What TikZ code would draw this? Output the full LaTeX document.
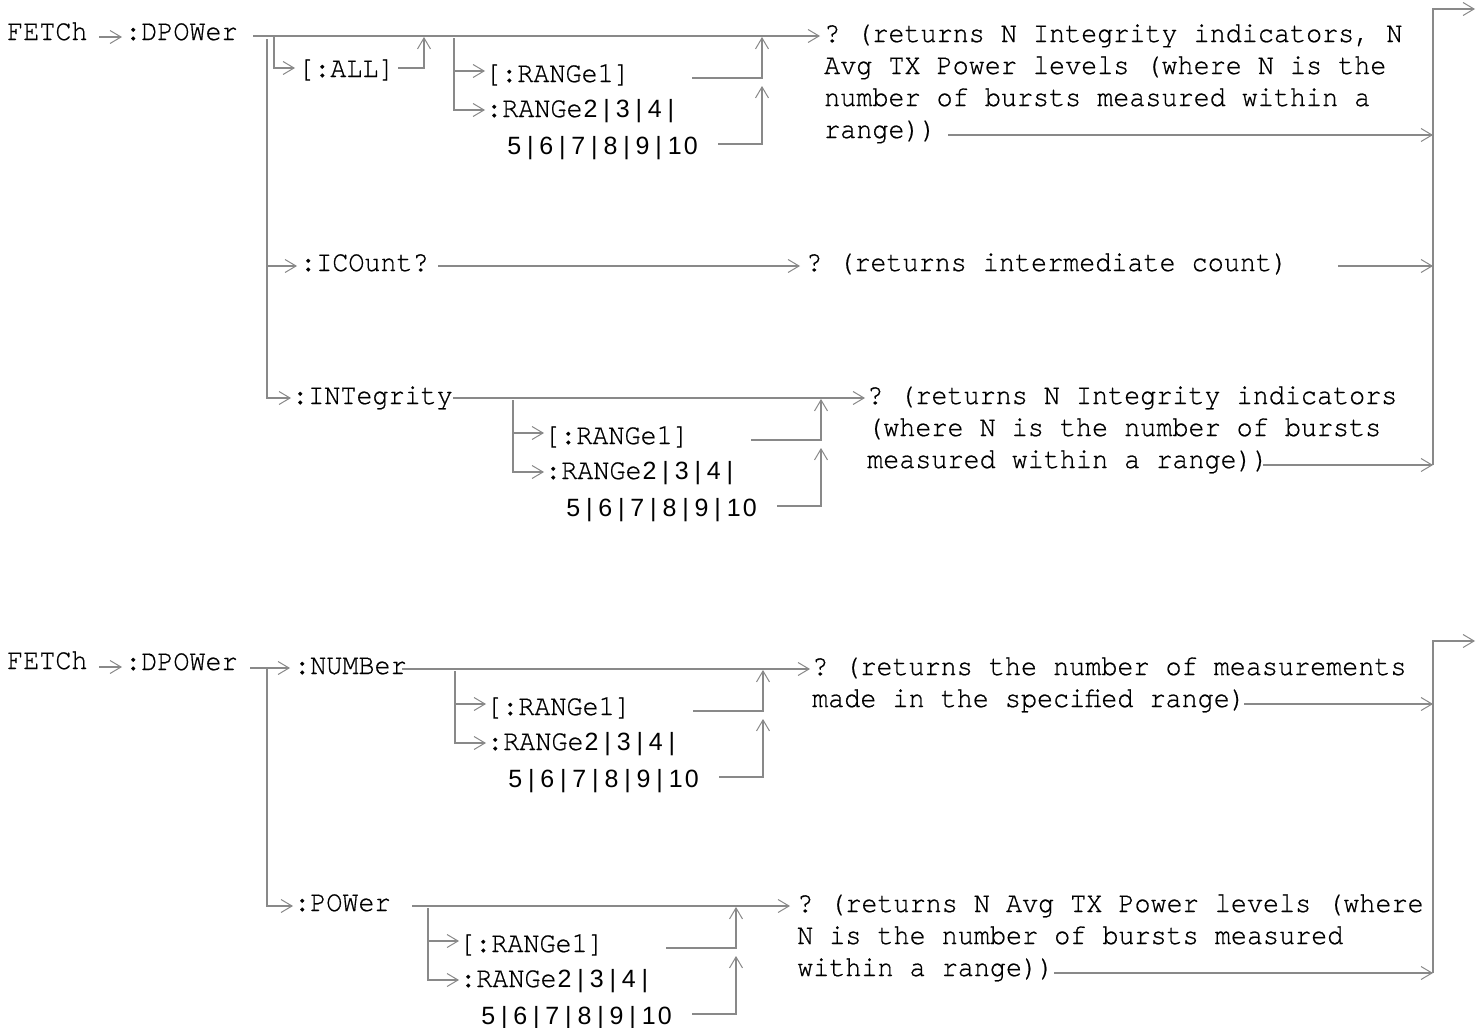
\documentclass[tikz,border=0pt]{standalone}
\usepackage{fontspec}
\setmonofont{TeX Gyre Cursor}[FakeStretch=0.92, FakeBold=0.6]
\setsansfont{Liberation Sans}
\usetikzlibrary{arrows.meta}
\definecolor{linegray}{RGB}{137,137,137}
% sans digits set in mono cells
\newcommand\dg[1]{\makebox[16.05pt]{\fontsize{25}{32}\sffamily#1}}
\newcommand\rngtwo{:RANGe\dg2\dg|\dg3\dg|\dg4\dg|}
\newcommand\rngrest{\dg5\dg|\dg6\dg|\dg7\dg|\dg8\dg|\dg9\dg|\dg1\dg0}

\begin{document}
\begin{tikzpicture}[x=1pt, y=-1pt,
  wire/.style={draw=linegray, line width=2pt},
  arr/.style={wire, -{Straight Barb[length=11pt, width=13pt, line width=1pt]}},
  cmd/.style={anchor=base west, inner sep=0pt, font=\fontsize{29.1}{32}\selectfont\ttfamily}]
  \fill[white] (0,0) rectangle (1481,1028);
  \useasboundingbox (0,0) rectangle (1481,1028);

  % Right collector bars
  \coordinate (barA) at (1433,465);
  \coordinate (barB) at (1433,973);
  \draw[arr] (barA) |- (1475,9);
  \draw[arr] (barB) |- (1475,641);

  % ---- Upper diagram ----
  \node[cmd] (fetchA) at (7,40) {FETCh};
  \node[cmd] (dpowA) at (125,40) {:DPOWer};
  \draw[arr] (99,37) -- (122,37);

  % main path to the query
  \draw[arr] (253,36) -- (820,36);
  \draw[arr] (267,39) |- (291,398);
  \draw[arr] (274,36) |- (295,68);
  \node[cmd] (all) at (298,77) {[:ALL]};
  \draw[arr] (398,68) -| (424,37);

  \node[cmd] (ansA1) at (824,42) {? (returns N Integrity indicators, N};
  \node[cmd] (ansA2) at (824,74) {Avg TX Power levels (where N is the};
  \node[cmd] (ansA3) at (824,106) {number of bursts measured within a};
  \node[cmd] (ansA4) at (824,138) {range))};
  \draw[arr] (948,135) -- (barA |- 0,135);

  % :ICOunt?
  \draw[arr] (267,266) -- (297,266);
  \node[cmd] (icount) at (300,271) {:ICOunt?};
  \draw[arr] (438,266) -- (800,266);
  \node[cmd] (ansI) at (806,271) {? (returns intermediate count)};
  \draw[arr] (1338,266) -- (barA |- 0,266);

  % :INTegrity
  \node[cmd] (integ) at (292,404) {:INTegrity};
  \draw[arr] (453,398) -- (865,398);
  \node[cmd] (ansT1) at (867,404) {? (returns N Integrity indicators};
  \node[cmd] (ansT2) at (867,436) {(where N is the number of bursts};
  \node[cmd] (ansT3) at (867,468) {measured within a range))};
  \draw[arr] (1263,465) -- (barA);

  % ---- Lower diagram ----
  \node[cmd] (fetchB) at (7,669) {FETCh};
  \node[cmd] (dpowB) at (125,670) {:DPOWer};
  \draw[arr] (99,667) -- (122,667);
  \draw[arr] (250,668) -- (290,668);
  \draw[arr] (267,669) |- (293,906);

  % :NUMBer
  \node[cmd] (numb) at (294,674) {:NUMBer};
  \draw[arr] (402,669) -- (810,669);
  \node[cmd] (ansN1) at (812,675) {? (returns the number of measurements};
  \node[cmd] (ansN2) at (812,707) {made in the specified range)};
  \draw[arr] (1244,704) -- (barB |- 0,704);

  % :POWer
  \node[cmd] (powr) at (294,911) {:POWer};
  \draw[arr] (412,906) -- (790,906);
  \node[cmd] (ansP1) at (797,912) {? (returns N Avg TX Power levels (where};
  \node[cmd] (ansP2) at (797,944) {N is the number of bursts measured};
  \node[cmd] (ansP3) at (797,976) {within a range))};
  \draw[arr] (1054,973) -- (barB);

  % Range blocks: x of branch bar / y of main path / name
  \foreach \vx/\my/\bn in {454/36/a, 513/398/b, 455/669/c, 428/906/d}{
    \begin{scope}[shift={(\vx,\my)}]
      \draw[wire] (0,2) -- (0,35);
      \draw[arr] (0,35) -- (31,35);
      \draw[arr] (0,35) |- (31,74);
      \node[cmd] (rgA\bn) at (31,46) {[:RANGe1]};
      \node[cmd] (rgB\bn) at (32,81) {\rngtwo};
      \node[cmd] (rgC\bn) at (52,118) {\rngrest};
      \draw[arr] (238,42) -| (308,1);
      \draw[arr] (264,108) -| (308,50);
    \end{scope}
  }
\end{tikzpicture}
\end{document}
